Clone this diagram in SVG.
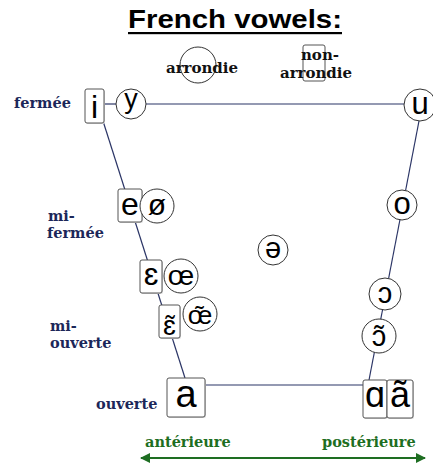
<svg xmlns="http://www.w3.org/2000/svg" width="433" height="463" viewBox="0 0 433 463">
<defs>
<style>
.lbl{font-family:"DejaVu Serif","Liberation Serif",serif;font-weight:bold;font-size:14.5px;fill:#1c2759}
.hdr{font-family:"DejaVu Serif","Liberation Serif",serif;font-weight:bold;font-size:15px;fill:#111}
.grn{font-family:"DejaVu Serif","Liberation Serif",serif;font-weight:bold;font-size:14.5px;fill:#1e6e22}
.v{font-family:"Liberation Sans","DejaVu Sans",sans-serif;fill:#000;text-anchor:middle}
.box{fill:#fff;stroke:#555;stroke-width:1}
.shd{fill:#d8d8d8}
.cir{fill:#fff;stroke:#333;stroke-width:1}
.ln{stroke:#2b3566;stroke-width:1.2;fill:none}
</style>
<marker id="ah" viewBox="0 0 10 10" refX="9" refY="5" markerWidth="5" markerHeight="5" orient="auto-start-reverse">
<path d="M0,0 L10,5 L0,10 z" fill="#1e6e22"/>
</marker>
</defs>
<rect width="433" height="463" fill="#fff"/>

<g id="title">
<text x="235" y="28" font-family="Liberation Sans, Arial, sans-serif" font-weight="bold" font-size="25" text-anchor="middle" textLength="214" lengthAdjust="spacingAndGlyphs" fill="#000">French vowels:</text>
<rect x="128" y="32" width="214" height="2.2" fill="#000"/>
</g>

<g id="connectors">
<line class="ln" x1="104" y1="104" x2="116" y2="104"/>
<line class="ln" x1="146" y1="104" x2="404" y2="104"/>
<line class="ln" x1="103" y1="121" x2="185" y2="378"/>
<line class="ln" x1="419" y1="121" x2="369" y2="380"/>
<line class="ln" x1="205" y1="385" x2="363" y2="385"/>
<line x1="141" y1="458" x2="425" y2="458" stroke="#1e6e22" stroke-width="2" marker-start="url(#ah)" marker-end="url(#ah)"/>
</g>

<g id="legend-arrondie">
<circle cx="198" cy="65" r="18" fill="none" stroke="#333" stroke-width="1"/>
<text class="hdr" x="202" y="73" text-anchor="middle">arrondie</text>
</g>
<g id="legend-non-arrondie">
<rect x="303" y="45" width="22" height="36" rx="2" fill="none" stroke="#555"/>
<text class="hdr" x="320" y="60" text-anchor="middle">non-</text>
<text class="hdr" x="316" y="78" text-anchor="middle">arrondie</text>
</g>

<g id="label-fermee"><text class="lbl" x="14" y="108">fermée</text></g>
<g id="label-mi-fermee"><text class="lbl" x="48" y="221">mi-</text><text class="lbl" x="47" y="238">fermée</text></g>
<g id="label-mi-ouverte"><text class="lbl" x="50" y="331">mi-</text><text class="lbl" x="50" y="348">ouverte</text></g>
<g id="label-ouverte"><text class="lbl" x="96" y="409">ouverte</text></g>
<g id="label-anterieure"><text class="grn" x="145" y="447">antérieure</text></g>
<g id="label-posterieure"><text class="grn" x="322" y="447">postérieure</text></g>

<g id="v-i"><rect class="shd" x="86" y="90" width="19" height="34" rx="2"/><rect class="box" x="85" y="89" width="19" height="34" rx="2"/><text class="v" x="94.5" y="118" font-size="32">i</text></g>
<g id="v-y"><circle class="cir" cx="131" cy="104" r="15"/><text class="v" x="131" y="108" font-size="27">y</text></g>
<g id="v-u"><circle class="cir" cx="420" cy="105" r="16"/><text class="v" x="420" y="114" font-size="31">u</text></g>

<g id="v-e"><rect class="shd" x="119" y="190" width="24" height="33" rx="2"/><rect class="box" x="118" y="189" width="24" height="33" rx="2"/><text class="v" x="130" y="215" font-size="32">e</text></g>
<g id="v-oe-slash"><circle class="cir" cx="157" cy="206" r="17"/><text class="v" x="157" y="215" font-size="30">ø</text></g>
<g id="v-o"><circle class="cir" cx="402" cy="205" r="15"/><text class="v" x="402" y="214" font-size="31">o</text></g>
<g id="v-schwa"><circle class="cir" cx="273" cy="250" r="15"/><text class="v" x="273" y="258" font-size="29">ə</text></g>

<g id="v-epsilon"><rect class="shd" x="141" y="261" width="22" height="33" rx="2"/><rect class="box" x="140" y="260" width="22" height="33" rx="2"/><text class="v" x="151" y="285" font-size="32">ɛ</text></g>
<g id="v-oe"><circle class="cir" cx="181" cy="276" r="17"/><text class="v" x="181" y="285" font-size="28">œ</text></g>
<g id="v-open-o"><circle class="cir" cx="385" cy="294" r="16"/><text class="v" x="385" y="303" font-size="29">ɔ</text></g>

<g id="v-epsilon-nasal"><rect class="shd" x="160" y="306" width="21" height="33" rx="2"/><rect class="box" x="159" y="305" width="21" height="33" rx="2"/><text class="v" x="169.5" y="335" font-size="28">ɛ̃</text></g>
<g id="v-oe-nasal"><circle class="cir" cx="200" cy="314" r="17"/><text class="v" x="200" y="324" font-size="26">œ̃</text></g>
<g id="v-open-o-nasal"><circle class="cir" cx="379" cy="336" r="17"/><text class="v" x="379" y="346" font-size="29">ɔ̃</text></g>

<g id="v-a"><rect class="shd" x="168" y="379" width="38" height="39" rx="2"/><rect class="box" x="167" y="378" width="38" height="39" rx="2"/><text class="v" x="186" y="407" font-size="38">a</text></g>
<g id="v-alpha"><rect class="shd" x="364" y="381" width="24" height="38" rx="2"/><rect class="box" x="363" y="380" width="24" height="38" rx="2"/><text class="v" x="375" y="407" font-size="36">ɑ</text></g>
<g id="v-a-nasal"><rect class="shd" x="388" y="381" width="26" height="38" rx="2"/><rect class="box" x="387" y="380" width="26" height="38" rx="2"/><text class="v" x="400" y="407" font-size="36">ã</text></g>
</svg>
